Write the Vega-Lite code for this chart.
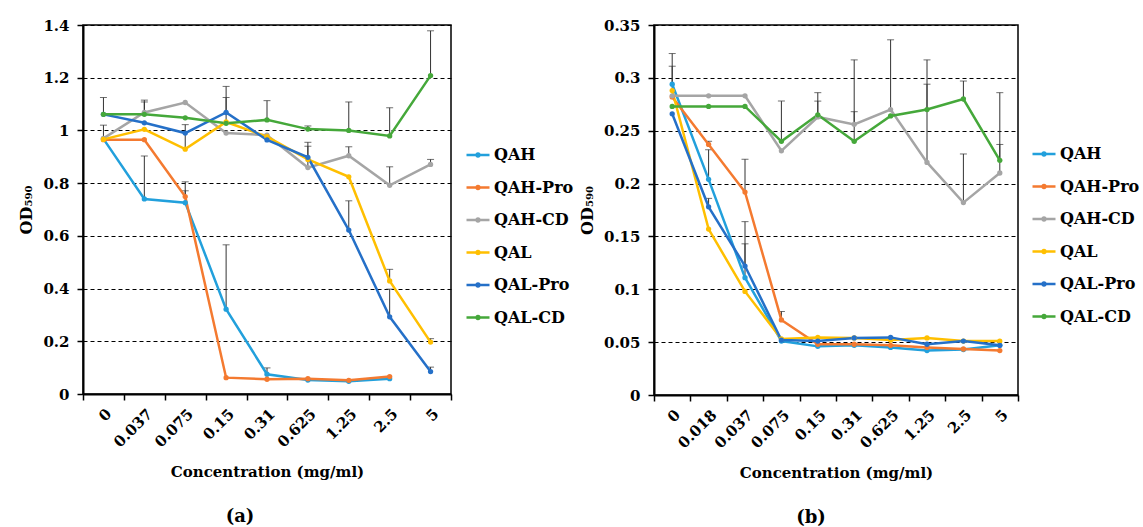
{
  "$schema": "https://vega.github.io/schema/vega-lite/v6.json",
  "padding": {"left": 18, "top": 17, "right": 0, "bottom": 0},
  "background": "white",
  "datasets": {
    "a": [
      {"c": "0", "s": "QAH", "v": 0.968}, {"c": "0.037", "s": "QAH", "v": 0.74}, {"c": "0.075", "s": "QAH", "v": 0.726}, {"c": "0.15", "s": "QAH", "v": 0.322}, {"c": "0.31", "s": "QAH", "v": 0.075}, {"c": "0.625", "s": "QAH", "v": 0.053}, {"c": "1.25", "s": "QAH", "v": 0.048}, {"c": "2.5", "s": "QAH", "v": 0.058},
      {"c": "0", "s": "QAH-Pro", "v": 0.965}, {"c": "0.037", "s": "QAH-Pro", "v": 0.965}, {"c": "0.075", "s": "QAH-Pro", "v": 0.749}, {"c": "0.15", "s": "QAH-Pro", "v": 0.062}, {"c": "0.31", "s": "QAH-Pro", "v": 0.056}, {"c": "0.625", "s": "QAH-Pro", "v": 0.058}, {"c": "1.25", "s": "QAH-Pro", "v": 0.052}, {"c": "2.5", "s": "QAH-Pro", "v": 0.066},
      {"c": "0", "s": "QAH-CD", "v": 0.97}, {"c": "0.037", "s": "QAH-CD", "v": 1.068}, {"c": "0.075", "s": "QAH-CD", "v": 1.106}, {"c": "0.15", "s": "QAH-CD", "v": 0.99}, {"c": "0.31", "s": "QAH-CD", "v": 0.982}, {"c": "0.625", "s": "QAH-CD", "v": 0.859}, {"c": "1.25", "s": "QAH-CD", "v": 0.904}, {"c": "2.5", "s": "QAH-CD", "v": 0.792}, {"c": "5", "s": "QAH-CD", "v": 0.871},
      {"c": "0", "s": "QAL", "v": 0.966}, {"c": "0.037", "s": "QAL", "v": 1.004}, {"c": "0.075", "s": "QAL", "v": 0.929}, {"c": "0.15", "s": "QAL", "v": 1.032}, {"c": "0.31", "s": "QAL", "v": 0.976}, {"c": "0.625", "s": "QAL", "v": 0.89}, {"c": "1.25", "s": "QAL", "v": 0.824}, {"c": "2.5", "s": "QAL", "v": 0.429}, {"c": "5", "s": "QAL", "v": 0.197},
      {"c": "0", "s": "QAL-Pro", "v": 1.061}, {"c": "0.037", "s": "QAL-Pro", "v": 1.029}, {"c": "0.075", "s": "QAL-Pro", "v": 0.99}, {"c": "0.15", "s": "QAL-Pro", "v": 1.068}, {"c": "0.31", "s": "QAL-Pro", "v": 0.964}, {"c": "0.625", "s": "QAL-Pro", "v": 0.898}, {"c": "1.25", "s": "QAL-Pro", "v": 0.622}, {"c": "2.5", "s": "QAL-Pro", "v": 0.293}, {"c": "5", "s": "QAL-Pro", "v": 0.085},
      {"c": "0", "s": "QAL-CD", "v": 1.061}, {"c": "0.037", "s": "QAL-CD", "v": 1.061}, {"c": "0.075", "s": "QAL-CD", "v": 1.048}, {"c": "0.15", "s": "QAL-CD", "v": 1.027}, {"c": "0.31", "s": "QAL-CD", "v": 1.04}, {"c": "0.625", "s": "QAL-CD", "v": 1.005}, {"c": "1.25", "s": "QAL-CD", "v": 1.0}, {"c": "2.5", "s": "QAL-CD", "v": 0.979}, {"c": "5", "s": "QAL-CD", "v": 1.208}
    ],
    "ea": [
      {"c": "0", "s": "QAL-CD", "v": 1.061, "hi": 1.125}, {"c": "0", "s": "QAL", "v": 0.966, "hi": 1.02},
      {"c": "0.037", "s": "QAH", "v": 0.74, "hi": 0.903}, {"c": "0.037", "s": "QAL-CD", "v": 1.061, "hi": 1.115}, {"c": "0.037", "s": "QAH-CD", "v": 1.068, "hi": 1.108},
      {"c": "0.075", "s": "QAH-Pro", "v": 0.749, "hi": 0.805}, {"c": "0.075", "s": "QAH", "v": 0.726, "hi": 0.771}, {"c": "0.075", "s": "QAL", "v": 0.929, "hi": 1.022},
      {"c": "0.15", "s": "QAH", "v": 0.322, "hi": 0.566}, {"c": "0.15", "s": "QAL-Pro", "v": 1.068, "hi": 1.167}, {"c": "0.15", "s": "QAL", "v": 1.032, "hi": 1.125},
      {"c": "0.31", "s": "QAH", "v": 0.075, "hi": 0.099}, {"c": "0.31", "s": "QAL-CD", "v": 1.04, "hi": 1.113},
      {"c": "0.625", "s": "QAL-CD", "v": 1.005, "hi": 1.017}, {"c": "0.625", "s": "QAH-CD", "v": 0.859, "hi": 0.955}, {"c": "0.625", "s": "QAL-Pro", "v": 0.898, "hi": 0.94},
      {"c": "1.25", "s": "QAL-CD", "v": 1.0, "hi": 1.108}, {"c": "1.25", "s": "QAH-CD", "v": 0.904, "hi": 0.938}, {"c": "1.25", "s": "QAL-Pro", "v": 0.622, "hi": 0.733},
      {"c": "2.5", "s": "QAL-CD", "v": 0.979, "hi": 1.086}, {"c": "2.5", "s": "QAH-CD", "v": 0.792, "hi": 0.862}, {"c": "2.5", "s": "QAL", "v": 0.429, "hi": 0.473}, {"c": "2.5", "s": "QAL-Pro", "v": 0.293, "hi": 0.398},
      {"c": "5", "s": "QAL-CD", "v": 1.208, "hi": 1.378}, {"c": "5", "s": "QAH-CD", "v": 0.871, "hi": 0.89}, {"c": "5", "s": "QAL", "v": 0.197, "hi": 0.21}, {"c": "5", "s": "QAL-Pro", "v": 0.085, "hi": 0.102}
    ],
    "b": [
      {"c": "0", "s": "QAH", "v": 0.294}, {"c": "0.018", "s": "QAH", "v": 0.204}, {"c": "0.037", "s": "QAH", "v": 0.111}, {"c": "0.075", "s": "QAH", "v": 0.051}, {"c": "0.15", "s": "QAH", "v": 0.046}, {"c": "0.31", "s": "QAH", "v": 0.047}, {"c": "0.625", "s": "QAH", "v": 0.045}, {"c": "1.25", "s": "QAH", "v": 0.042}, {"c": "2.5", "s": "QAH", "v": 0.043}, {"c": "5", "s": "QAH", "v": 0.047},
      {"c": "0", "s": "QAH-Pro", "v": 0.282}, {"c": "0.018", "s": "QAH-Pro", "v": 0.237}, {"c": "0.037", "s": "QAH-Pro", "v": 0.192}, {"c": "0.075", "s": "QAH-Pro", "v": 0.071}, {"c": "0.15", "s": "QAH-Pro", "v": 0.048}, {"c": "0.31", "s": "QAH-Pro", "v": 0.048}, {"c": "0.625", "s": "QAH-Pro", "v": 0.047}, {"c": "1.25", "s": "QAH-Pro", "v": 0.045}, {"c": "2.5", "s": "QAH-Pro", "v": 0.0435}, {"c": "5", "s": "QAH-Pro", "v": 0.042},
      {"c": "0", "s": "QAH-CD", "v": 0.283}, {"c": "0.018", "s": "QAH-CD", "v": 0.283}, {"c": "0.037", "s": "QAH-CD", "v": 0.283}, {"c": "0.075", "s": "QAH-CD", "v": 0.231}, {"c": "0.15", "s": "QAH-CD", "v": 0.263}, {"c": "0.31", "s": "QAH-CD", "v": 0.256}, {"c": "0.625", "s": "QAH-CD", "v": 0.27}, {"c": "1.25", "s": "QAH-CD", "v": 0.22}, {"c": "2.5", "s": "QAH-CD", "v": 0.182}, {"c": "5", "s": "QAH-CD", "v": 0.21},
      {"c": "0", "s": "QAL", "v": 0.288}, {"c": "0.018", "s": "QAL", "v": 0.157}, {"c": "0.037", "s": "QAL", "v": 0.098}, {"c": "0.075", "s": "QAL", "v": 0.053}, {"c": "0.15", "s": "QAL", "v": 0.0545}, {"c": "0.31", "s": "QAL", "v": 0.054}, {"c": "0.625", "s": "QAL", "v": 0.052}, {"c": "1.25", "s": "QAL", "v": 0.054}, {"c": "2.5", "s": "QAL", "v": 0.051}, {"c": "5", "s": "QAL", "v": 0.051},
      {"c": "0", "s": "QAL-Pro", "v": 0.266}, {"c": "0.018", "s": "QAL-Pro", "v": 0.178}, {"c": "0.037", "s": "QAL-Pro", "v": 0.122}, {"c": "0.075", "s": "QAL-Pro", "v": 0.052}, {"c": "0.15", "s": "QAL-Pro", "v": 0.051}, {"c": "0.31", "s": "QAL-Pro", "v": 0.054}, {"c": "0.625", "s": "QAL-Pro", "v": 0.0545}, {"c": "1.25", "s": "QAL-Pro", "v": 0.048}, {"c": "2.5", "s": "QAL-Pro", "v": 0.051}, {"c": "5", "s": "QAL-Pro", "v": 0.047},
      {"c": "0", "s": "QAL-CD", "v": 0.273}, {"c": "0.018", "s": "QAL-CD", "v": 0.273}, {"c": "0.037", "s": "QAL-CD", "v": 0.273}, {"c": "0.075", "s": "QAL-CD", "v": 0.24}, {"c": "0.15", "s": "QAL-CD", "v": 0.265}, {"c": "0.31", "s": "QAL-CD", "v": 0.24}, {"c": "0.625", "s": "QAL-CD", "v": 0.264}, {"c": "1.25", "s": "QAL-CD", "v": 0.27}, {"c": "2.5", "s": "QAL-CD", "v": 0.28}, {"c": "5", "s": "QAL-CD", "v": 0.222}
    ],
    "eb": [
      {"c": "0", "s": "QAH", "v": 0.294, "hi": 0.323}, {"c": "0", "s": "QAL", "v": 0.288, "hi": 0.311},
      {"c": "0.018", "s": "QAH", "v": 0.204, "hi": 0.232}, {"c": "0.018", "s": "QAL-Pro", "v": 0.178, "hi": 0.186}, {"c": "0.018", "s": "QAH-Pro", "v": 0.237, "hi": 0.24},
      {"c": "0.037", "s": "QAH-Pro", "v": 0.192, "hi": 0.223}, {"c": "0.037", "s": "QAL-Pro", "v": 0.122, "hi": 0.164}, {"c": "0.037", "s": "QAH", "v": 0.111, "hi": 0.143},
      {"c": "0.075", "s": "QAH-Pro", "v": 0.071, "hi": 0.079}, {"c": "0.075", "s": "QAL-CD", "v": 0.24, "hi": 0.278},
      {"c": "0.15", "s": "QAL-CD", "v": 0.265, "hi": 0.286}, {"c": "0.15", "s": "QAH-CD", "v": 0.263, "hi": 0.278},
      {"c": "0.31", "s": "QAH-CD", "v": 0.256, "hi": 0.317}, {"c": "0.31", "s": "QAL-CD", "v": 0.24, "hi": 0.268},
      {"c": "0.625", "s": "QAH-CD", "v": 0.27, "hi": 0.336},
      {"c": "1.25", "s": "QAH-CD", "v": 0.22, "hi": 0.317}, {"c": "1.25", "s": "QAL-CD", "v": 0.27, "hi": 0.294},
      {"c": "2.5", "s": "QAL-CD", "v": 0.28, "hi": 0.297}, {"c": "2.5", "s": "QAH-CD", "v": 0.182, "hi": 0.228},
      {"c": "5", "s": "QAL-CD", "v": 0.222, "hi": 0.286}, {"c": "5", "s": "QAH-CD", "v": 0.21, "hi": 0.237}
    ]
  },
  "config": {
    "font": "DejaVu Serif",
    "view": {"stroke": "#000", "strokeWidth": 1.5},
    "axis": {
      "labelFont": "DejaVu Serif", "labelFontSize": 15, "labelFontWeight": "bold", "labelColor": "#000",
      "titleFont": "DejaVu Serif", "titleFontSize": 16, "titleFontWeight": "bold", "titleColor": "#000",
      "domainColor": "#000", "domainWidth": 2, "tickColor": "#000", "tickWidth": 1.5, "tickSize": 6
    },
    "axisY": {"grid": true, "gridColor": "#000", "gridDash": [4, 3], "gridWidth": 1, "labelPadding": 8, "titlePadding": 8},
    "axisX": {"grid": false, "tickBand": "extent", "labelAngle": -45, "labelPadding": 6, "titlePadding": 15, "titleFontSize": 15},
    "legend": {
      "labelFont": "DejaVu Serif", "labelFontSize": 16, "labelFontWeight": "bold", "labelColor": "#000",
      "symbolStrokeWidth": 2.5, "symbolSize": 529, "rowPadding": 11.5, "labelOffset": 3,
      "symbolType": "M-1,0L1,0M-0.12,0A0.12,0.12 0 1,1 0.12,0A0.12,0.12 0 1,1 -0.12,0Z"
    },
    "title": {"font": "DejaVu Serif", "fontSize": 18, "fontWeight": "bold", "color": "#000"}
  },
  "spacing": 3,
  "resolve": {"scale": {"color": "independent", "x": "independent", "y": "independent"}, "legend": {"color": "independent"}},
  "hconcat": [
    {
      "width": 368, "height": 369,
      "title": {"text": "(a)", "orient": "bottom", "dx": -27, "offset": 28},
      "layer": [
        {
          "data": {"name": "ea"},
          "mark": {"type": "rule", "color": "#333", "strokeWidth": 1},
          "encoding": {
            "x": {"field": "c", "type": "nominal", "sort": null, "scale": {"domain": ["0", "0.037", "0.075", "0.15", "0.31", "0.625", "1.25", "2.5", "5"]}, "title": "Concentration (mg/ml)"},
            "y": {"field": "v", "type": "quantitative"},
            "y2": {"field": "hi"}
          }
        },
        {
          "data": {"name": "ea"},
          "mark": {"type": "tick", "color": "#333", "thickness": 1, "size": 7},
          "encoding": {
            "x": {"field": "c", "type": "nominal"},
            "y": {"field": "hi", "type": "quantitative"}
          }
        },
        {
          "data": {"name": "a"},
          "mark": {"type": "line", "strokeWidth": 2.5, "point": {"filled": true, "size": 28}},
          "encoding": {
            "x": {"field": "c", "type": "nominal"},
            "y": {"field": "v", "type": "quantitative", "title": "OD₅₉₀", "scale": {"domain": [0, 1.4]}, "axis": {"values": [0, 0.2, 0.4, 0.6, 0.8, 1, 1.2, 1.4], "format": "~g"}},
            "color": {"field": "s", "type": "nominal", "scale": {"domain": ["QAH", "QAH-Pro", "QAH-CD", "QAL", "QAL-Pro", "QAL-CD"], "range": ["#22A0DC", "#F47A30", "#A5A5A5", "#FFBF00", "#2570C8", "#45A83A"]},
              "legend": {"title": null, "orient": "none", "legendX": 382, "legendY": 117}}
          }
        }
      ]
    },
    {
      "width": 364, "height": 370,
      "title": {"text": "(b)", "orient": "bottom", "dx": -25, "offset": 28},
      "layer": [
        {
          "data": {"name": "eb"},
          "mark": {"type": "rule", "color": "#333", "strokeWidth": 1},
          "encoding": {
            "x": {"field": "c", "type": "nominal", "sort": null, "scale": {"domain": ["0", "0.018", "0.037", "0.075", "0.15", "0.31", "0.625", "1.25", "2.5", "5"]}, "title": "Concentration (mg/ml)"},
            "y": {"field": "v", "type": "quantitative"},
            "y2": {"field": "hi"}
          }
        },
        {
          "data": {"name": "eb"},
          "mark": {"type": "tick", "color": "#333", "thickness": 1, "size": 7},
          "encoding": {
            "x": {"field": "c", "type": "nominal"},
            "y": {"field": "hi", "type": "quantitative"}
          }
        },
        {
          "data": {"name": "b"},
          "mark": {"type": "line", "strokeWidth": 2.5, "point": {"filled": true, "size": 28}},
          "encoding": {
            "x": {"field": "c", "type": "nominal"},
            "y": {"field": "v", "type": "quantitative", "title": "OD₅₉₀", "scale": {"domain": [0, 0.35]}, "axis": {"values": [0, 0.05, 0.1, 0.15, 0.2, 0.25, 0.3, 0.35], "format": "~g"}},
            "color": {"field": "s", "type": "nominal", "scale": {"domain": ["QAH", "QAH-Pro", "QAH-CD", "QAL", "QAL-Pro", "QAL-CD"], "range": ["#22A0DC", "#F47A30", "#A5A5A5", "#FFBF00", "#2570C8", "#45A83A"]},
              "legend": {"title": null, "orient": "none", "legendX": 377, "legendY": 116}}
          }
        }
      ]
    }
  ]
}
